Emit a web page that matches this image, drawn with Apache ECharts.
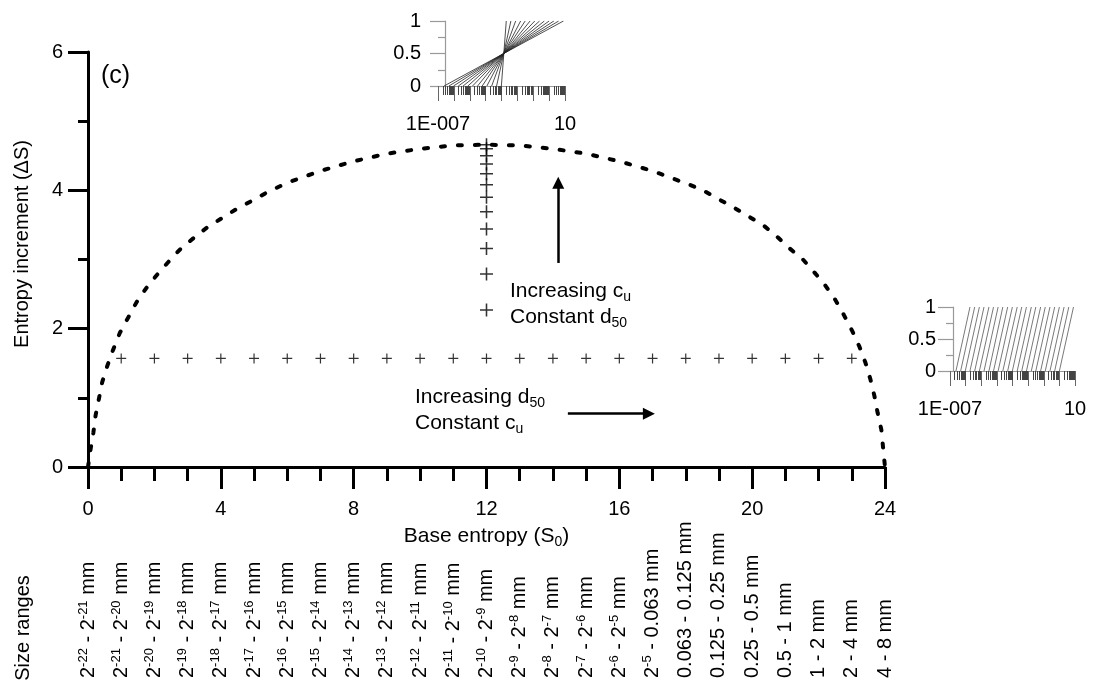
<!DOCTYPE html>
<html>
<head>
<meta charset="utf-8">
<title>Entropy increment</title>
<script src="https://cdn.jsdelivr.net/npm/echarts@6/dist/echarts.min.js"></script>
<style>
  html, body { margin: 0; padding: 0; background: #fff; }
  #chart { width: 1094px; height: 682px; }
</style>
</head>
<body>
<div id="chart"></div>
<script>
// dashed envelope (S0, dS)
const curveX = [0, 0.075, 0.16, 0.23, 0.33, 0.43, 0.58, 0.76, 0.96, 1.21, 1.46, 1.76, 2.08, 2.43, 2.78, 3.18,
  3.58, 4.04, 4.47, 4.94, 5.39, 6, 7, 8, 9, 10, 11, 12, 13, 14, 15, 16, 17, 18.12, 18.52, 19.0, 19.45,
  19.9, 20.35, 20.75, 21.13, 21.53, 21.88, 22.21, 22.5, 22.76, 23.01, 23.23, 23.41, 23.56, 23.68, 23.78,
  23.89, 23.94, 24]
const curveY = [0, 0.25, 0.49, 0.75, 0.99, 1.23, 1.46, 1.7, 1.94, 2.16, 2.38, 2.59, 2.78, 2.97, 3.15, 3.31,
  3.46, 3.6, 3.73, 3.85, 3.97, 4.11, 4.28, 4.42, 4.53, 4.6, 4.65, 4.66, 4.65, 4.6, 4.53, 4.42, 4.28, 4.08,
  4.0, 3.87, 3.75, 3.62, 3.49, 3.33, 3.16, 3.0, 2.81, 2.62, 2.42, 2.2, 1.97, 1.74, 1.51, 1.27, 1.03, 0.78,
  0.54, 0.29, 0]

// crosses: increasing d50 (row) and increasing cu (column)
const rowX = [1, 2, 3, 4, 5, 6, 7, 8, 9, 10, 11, 12, 13, 14, 15, 16, 17, 18, 19, 20, 21, 22, 23]
const rowY = [1.57, 1.57, 1.57, 1.57, 1.57, 1.57, 1.57, 1.57, 1.57, 1.57, 1.57, 1.57, 1.57, 1.57, 1.57,
  1.57, 1.57, 1.57, 1.57, 1.57, 1.57, 1.57, 1.57]
const colX = [12, 12, 12, 12, 12, 12, 12, 12, 12, 12, 12, 12]
const colY = [2.27, 2.79, 3.16, 3.44, 3.69, 3.9, 4.08, 4.24, 4.38, 4.5, 4.6, 4.66]

// size range labels, one per integer S0
const sizeRanges = [
  '2{s|-22} - 2{s|-21} mm', '2{s|-21} - 2{s|-20} mm', '2{s|-20} - 2{s|-19} mm', '2{s|-19} - 2{s|-18} mm',
  '2{s|-18} - 2{s|-17} mm', '2{s|-17} - 2{s|-16} mm', '2{s|-16} - 2{s|-15} mm', '2{s|-15} - 2{s|-14} mm',
  '2{s|-14} - 2{s|-13} mm', '2{s|-13} - 2{s|-12} mm', '2{s|-12} - 2{s|-11} mm', '2{s|-11} - 2{s|-10} mm',
  '2{s|-10} - 2{s|-9} mm', '2{s|-9} - 2{s|-8} mm', '2{s|-8} - 2{s|-7} mm', '2{s|-7} - 2{s|-6} mm',
  '2{s|-6} - 2{s|-5} mm', '2{s|-5} - 0.063 mm', '0.063 - 0.125 mm', '0.125 - 0.25 mm', '0.25 - 0.5 mm',
  '0.5 - 1 mm', '1 - 2 mm', '2 - 4 mm', '4 - 8 mm'
]

// top inset: grading lines around a fixed d50 (mm, lower and upper end)
const fanLo = [0.00098, 0.00049, 0.00024, 0.00012, 0.000061, 0.000031, 0.000015, 0.0000076, 0.0000038,
  0.0000019, 0.00000095, 0.00000048, 0.00000024]
const fanHi = [0.002, 0.0039, 0.0078, 0.016, 0.031, 0.063, 0.125, 0.25, 0.5, 1, 2, 4, 8]

// right inset: grading lines shifted one class at a time (mm)
const shiftLo = [0.00000024, 0.00000048, 0.00000095, 0.0000019, 0.0000038, 0.0000076, 0.000015, 0.000031,
  0.000061, 0.00012, 0.00024, 0.00049, 0.00098, 0.002, 0.0039, 0.0078, 0.016, 0.031, 0.063, 0.125, 0.25,
  0.5, 1]
const shiftHi = [0.0000019, 0.0000038, 0.0000076, 0.000015, 0.000031, 0.000061, 0.00012, 0.00024, 0.00049,
  0.00098, 0.002, 0.0039, 0.0078, 0.016, 0.031, 0.063, 0.125, 0.25, 0.5, 1, 2, 4, 8]

const FONT = '"Liberation Sans", Arial, sans-serif'
const PLUS = 'path://M0,4.4H10V5.6H0Z M4.4,0H5.6V10H4.4Z'

// log minor ticks (2..9 per decade) for the inset rugs
const rugTicks = []
for (let d = -7; d < 1; d++) {
  for (let k = 2; k <= 9; k++) rugTicks.push(d + Math.log10(k))
}

function insetAxes (grid, tickMargin) {
  const x = {
    type: 'value', gridIndex: grid, min: -7, max: 1, interval: 1,
    axisLine: { lineStyle: { color: '#999', width: 1.2 } },
    axisTick: { length: 15, lineStyle: { color: '#666', width: 1 } },
    axisLabel: {
      margin: 28, color: '#000', fontSize: 20, fontFamily: FONT,
      formatter: v => (v === -7 ? '1E-007' : v === 1 ? '10' : '')
    },
    splitLine: { show: false }
  }
  const rug = {
    type: 'value', gridIndex: grid, min: -7, max: 1, position: 'bottom',
    axisLine: { show: false },
    axisTick: { length: 9, customValues: rugTicks, lineStyle: { color: '#444', width: 1 } },
    axisLabel: { show: false },
    splitLine: { show: false }
  }
  const y = {
    type: 'value', gridIndex: grid, min: 0, max: 1, interval: 0.5,
    axisLine: { show: true, onZero: false, lineStyle: { color: '#999', width: 1.2 } },
    axisTick: { show: true, length: 15, lineStyle: { color: '#999', width: 1.2 } },
    minorTick: { show: true, splitNumber: 2, length: 7, lineStyle: { color: '#999', width: 1.2 } },
    axisLabel: { margin: tickMargin, color: '#000', fontSize: 20, fontFamily: FONT },
    splitLine: { show: false }
  }
  return { x, rug, y }
}

function chartOption () {
  const top = insetAxes(1, 24)
  const right = insetAxes(2, 17)
  top.y.offset = -7
  right.y.offset = -3

  const fanSeries = fanLo.map((lo, i) => ({
    type: 'line', xAxisIndex: 2, yAxisIndex: 1, silent: true, showSymbol: false,
    data: [[Math.log10(lo), 0], [Math.log10(fanHi[i]), 1]],
    lineStyle: { color: '#222', width: 0.8 }
  }))
  const shiftSeries = shiftLo.map((lo, i) => ({
    type: 'line', xAxisIndex: 4, yAxisIndex: 2, silent: true, showSymbol: false,
    data: [[Math.log10(lo), 0], [Math.log10(shiftHi[i]), 1]],
    lineStyle: { color: '#555', width: 0.8 }
  }))

  return {
    animation: false,
    backgroundColor: '#fff',
    textStyle: { fontFamily: FONT, color: '#000' },
    grid: [
      { left: 88, top: 52, width: 797, height: 415, containLabel: false, outerBoundsMode: 'none' },
      { left: 438, top: 21, width: 127, height: 65, containLabel: false, outerBoundsMode: 'none' },
      { left: 950, top: 307, width: 125, height: 64, containLabel: false, outerBoundsMode: 'none' }
    ],
    xAxis: [
      {
        type: 'value', gridIndex: 0, min: 0, max: 24, interval: 4,
        name: 'Base entropy (S{sub|0})', nameLocation: 'middle', nameGap: 56,
        nameTextStyle: {
          fontSize: 21, color: '#000', fontFamily: FONT,
          rich: { sub: { fontSize: 14, padding: [12, 0, 0, 0], fontFamily: FONT, color: '#000' } }
        },
        axisLine: { lineStyle: { color: '#000', width: 3 } },
        axisTick: { length: 22, lineStyle: { color: '#000', width: 3 } },
        minorTick: { show: true, splitNumber: 4, length: 14, lineStyle: { color: '#000', width: 3 } },
        axisLabel: { margin: 32, fontSize: 20, color: '#000', fontFamily: FONT },
        splitLine: { show: false }
      },
      {
        // size ranges, drawn as a second bottom axis pushed down to the page edge
        type: 'value', gridIndex: 0, min: 0, max: 24, interval: 1, position: 'bottom', offset: 213,
        axisLine: { show: false },
        axisTick: { show: false },
        axisLabel: {
          inside: true, rotate: 90, margin: 2, fontSize: 20, color: '#000', fontFamily: FONT,
          formatter: v => sizeRanges[v],
          rich: { s: { fontSize: 13, padding: [0, 0, 10, 0], fontFamily: FONT, color: '#000' } }
        },
        splitLine: { show: false }
      },
      top.x, top.rug, right.x, right.rug
    ],
    yAxis: [
      {
        type: 'value', gridIndex: 0, min: 0, max: 6, interval: 2,
        name: 'Entropy increment (ΔS)', nameLocation: 'middle', nameGap: 56,
        // left padding nudges the title up the axis
        nameTextStyle: { fontSize: 20, color: '#000', fontFamily: FONT, padding: [0, 0, 0, 31] },
        axisLine: { show: true, lineStyle: { color: '#000', width: 3 } },
        axisTick: { show: true, length: 20, lineStyle: { color: '#000', width: 3 } },
        minorTick: { show: true, splitNumber: 2, length: 10, lineStyle: { color: '#000', width: 3 } },
        axisLabel: { margin: 25, fontSize: 20, color: '#000', fontFamily: FONT },
        splitLine: { show: false }
      },
      top.y, right.y
    ],
    series: [
      {
        name: 'envelope', type: 'line', xAxisIndex: 0, yAxisIndex: 0, silent: true, showSymbol: false,
        data: curveX.map((x, i) => [x, curveY[i]]),
        lineStyle: { color: '#000', width: 4, type: [4, 13], cap: 'round' }
      },
      {
        name: 'increasing d50', type: 'scatter', xAxisIndex: 0, yAxisIndex: 0, silent: true,
        symbol: PLUS, symbolSize: 10, itemStyle: { color: '#000' },
        data: rowX.map((x, i) => [x, rowY[i]]),
        markLine: {
          silent: true, symbol: ['none', 'triangle'], symbolSize: 12,
          label: { show: false },
          lineStyle: { color: '#000', width: 2.5, type: 'solid' },
          data: [
            [{ coord: [14.16, 2.95] }, { coord: [14.16, 4.11] }],
            [{ coord: [14.45, 0.77] }, { coord: [16.89, 0.77] }]
          ]
        }
      },
      {
        name: 'increasing cu', type: 'scatter', xAxisIndex: 0, yAxisIndex: 0, silent: true,
        symbol: PLUS, symbolSize: 13, itemStyle: { color: '#000' },
        data: colX.map((x, i) => [x, colY[i]])
      },
      ...fanSeries,
      ...shiftSeries
    ],
    graphic: [
      { type: 'text', x: 101, y: 76, silent: true,
        style: { text: '(c)', font: '25px ' + FONT, fill: '#000', verticalAlign: 'middle' } },
      { type: 'text', x: 510, y: 278, silent: true,
        style: {
          text: 'Increasing c{sub|u}\nConstant d{sub|50}', font: '21px ' + FONT, fill: '#000',
          rich: { sub: { font: '14px ' + FONT, padding: [12, 0, 0, 0], fill: '#000' } }
        } },
      { type: 'text', x: 415, y: 384, silent: true,
        style: {
          text: 'Increasing d{sub|50}\nConstant c{sub|u}', font: '21px ' + FONT, fill: '#000',
          rich: { sub: { font: '14px ' + FONT, padding: [12, 0, 0, 0], fill: '#000' } }
        } },
      { type: 'text', x: 23, y: 628, rotation: Math.PI / 2, silent: true,
        style: { text: 'Size ranges', font: '20px ' + FONT, fill: '#000', align: 'center', verticalAlign: 'middle' } }
    ]
  }
}

const chart = echarts.init(document.getElementById('chart'))
chart.setOption(chartOption())
window.addEventListener('resize', () => chart.resize())
</script>
</body>
</html>
